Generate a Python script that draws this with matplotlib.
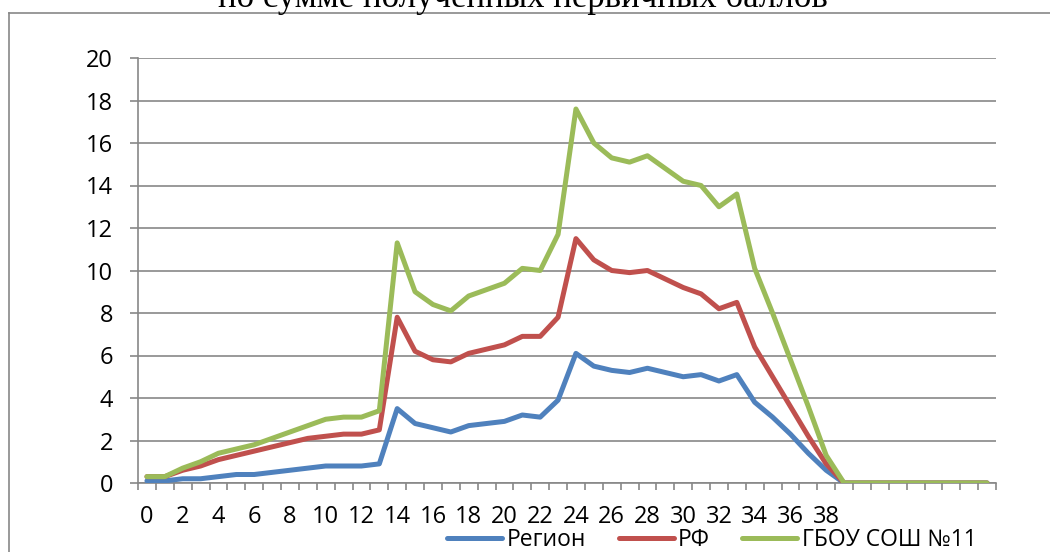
import matplotlib
matplotlib.use("Agg")
import matplotlib.pyplot as plt
from matplotlib.lines import Line2D
from matplotlib.ticker import FixedLocator, NullFormatter

# первичный балл 0..47, подписи только до 38
scores = list(range(48))
tick_labels = [str(s) for s in range(0, 39, 2)]

region = [0.1, 0.1, 0.2, 0.2, 0.3, 0.4, 0.4, 0.5, 0.6, 0.7, 0.8, 0.8, 0.8, 0.9,
          3.5, 2.8, 2.6, 2.4, 2.7, 2.8, 2.9, 3.2, 3.1, 3.9,
          6.1, 5.5, 5.3, 5.2, 5.4, 5.2, 5.0, 5.1, 4.8, 5.1,
          3.8, 3.1, 2.3, 1.4, 0.6,
          0, 0, 0, 0, 0, 0, 0, 0, 0]
rf = [0.3, 0.3, 0.6, 0.8, 1.1, 1.3, 1.5, 1.7, 1.9, 2.1, 2.2, 2.3, 2.3, 2.5,
      7.8, 6.2, 5.8, 5.7, 6.1, 6.3, 6.5, 6.9, 6.9, 7.8,
      11.5, 10.5, 10.0, 9.9, 10.0, 9.6, 9.2, 8.9, 8.2, 8.5,
      6.4, 5.0, 3.6, 2.2, 0.9,
      0, 0, 0, 0, 0, 0, 0, 0, 0]
gbou = [0.3, 0.3, 0.7, 1.0, 1.4, 1.6, 1.8, 2.1, 2.4, 2.7, 3.0, 3.1, 3.1, 3.4,
        11.3, 9.0, 8.4, 8.1, 8.8, 9.1, 9.4, 10.1, 10.0, 11.7,
        17.6, 16.0, 15.3, 15.1, 15.4, 14.8, 14.2, 14.0, 13.0, 13.6,
        10.1, 8.0, 5.8, 3.6, 1.3,
        0, 0, 0, 0, 0, 0, 0, 0, 0]

series = [("Регион", region, "#4F81BD"),
          ("РФ", rf, "#C0504D"),
          ("ГБОУ СОШ №11", gbou, "#9BBB59")]

plt.rcParams['font.family'] = ['Open Sans', 'DejaVu Sans']
grey = "#878787"

W, H = 1050, 552
fig = plt.figure(figsize=(W / 100, H / 100), dpi=100)
ax = fig.add_axes([138 / W, 1 - 483 / H, (996 - 138) / W, (483 - 58) / H])

for name, vals, col in series:
    ax.plot(scores, vals, color=col, lw=3.6, label=name,
            solid_joinstyle='round', solid_capstyle='round', zorder=3)

ax.set_xlim(-0.5, len(scores) - 0.5)
ax.set_ylim(0, 20)
ax.set_yticks(range(0, 21, 2))
ax.yaxis.grid(True, color=grey, lw=1.2)
ax.set_axisbelow(True)

ax.xaxis.set_major_locator(FixedLocator(range(0, 39, 2)))
ax.set_xticklabels(tick_labels)
ax.xaxis.set_minor_locator(FixedLocator([i - 0.5 for i in range(len(scores) + 1)]))
ax.xaxis.set_minor_formatter(NullFormatter())
ax.tick_params(axis='x', which='major', length=0, pad=16, labelsize=17)
ax.tick_params(axis='x', which='minor', length=5, width=1.2, color=grey)
ax.tick_params(axis='y', length=6, width=1.2, color=grey, pad=12, labelsize=17)

for s in ['top', 'right']:
    ax.spines[s].set_visible(False)
for s in ['left', 'bottom']:
    ax.spines[s].set_color(grey)
    ax.spines[s].set_linewidth(1.2)

fig.legend(loc='center', bbox_to_anchor=(712 / W, 1 - 540 / H), ncol=3,
           frameon=False, fontsize=16.5, handlelength=2.4, handletextpad=0.2,
           columnspacing=1.4, borderpad=0, borderaxespad=0)

# рамка области диаграммы
fig.add_artist(Line2D([9 / W, 1], [1 - 13 / H, 1 - 13 / H], color=grey, lw=1.2))
fig.add_artist(Line2D([9 / W, 9 / W], [0, 1 - 13 / H], color=grey, lw=1.2))

fig.text(523 / W, 1 - 7 / H, "по сумме полученных первичных баллов",
         ha='center', va='baseline', fontsize=25, family='Liberation Serif')

fig.savefig("out.png", dpi=100)
